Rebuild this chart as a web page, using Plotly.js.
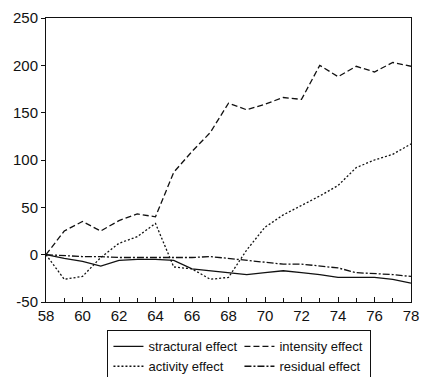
<!DOCTYPE html>
<html>
<head>
<meta charset="utf-8">
<script src="https://cdn.plot.ly/plotly-3.0.1.min.js"></script>
<style>html,body{margin:0;padding:0;background:#fff;}#chart{width:421px;height:377px;}</style>
</head>
<body>
<div id="chart"></div>
<script>
const years = [58,59,60,61,62,63,64,65,66,67,68,69,70,71,72,73,74,75,76,77,78];
const structural = [0,-4,-7,-12,-6,-5,-5,-6,-15,-17,-19,-21,-19,-17,-19,-21,-24,-24,-24,-26,-30];
const intensity = [0,25,35,25,36,43,40,87,109,129,160,153,159,166,164,200,188,199,193,203,199];
const activity = [0,-26,-23,-3,12,19,33,-13,-15,-26,-24,5,29,42,52,62,73,92,100,106,117];
const residual = [0,-1,-2,-2,-3,-3,-3,-3,-3,-2,-4,-6,-8,-10,-10,-12,-14,-19,-20,-21,-23];
const names = ["stractural effect","intensity effect","activity effect","residual effect"];
const xTicks = [58,60,62,64,66,68,70,72,74,76,78];
const yTicks = [-50,0,50,100,150,200,250];

const mk = (y, name, dash) => ({x: years, y: y, name: name, type: 'scatter', mode: 'lines',
  line: {color: '#111', width: 1.3, dash: dash}});
const data = [
  mk(structural, names[0], 'solid'),
  mk(intensity, names[1], '6px,3px'),
  mk(activity, names[2], '2px,2px'),
  mk(residual, names[3], '7px,2px,2px,2px')
];
const font = {family: 'Liberation Sans, Arial, sans-serif', size: 15, color: '#111'};
const layout = {
  width: 421, height: 377,
  margin: {l: 46, r: 10, t: 18, b: 75, autoexpand: false},
  paper_bgcolor: '#fff', plot_bgcolor: '#fff',
  font: font,
  showlegend: true,
  legend: {orientation: 'h', x: 0.53, xanchor: 'center', y: -0.1, yanchor: 'top',
    bordercolor: '#111', borderwidth: 1, bgcolor: '#fff',
    font: {family: 'Liberation Sans, Arial, sans-serif', size: 13, color: '#111'},
    entrywidth: 86, entrywidthmode: 'pixels', itemwidth: 30, tracegroupgap: 0},
  xaxis: {range: [58, 78], tickvals: xTicks, ticktext: xTicks.map(String),
    showgrid: false, zeroline: false, showline: true, linecolor: '#111', linewidth: 1,
    mirror: true, ticks: 'inside', ticklen: 5, tickcolor: '#111',
    minor: {dtick: 1, tick0: 58, ticks: 'inside', ticklen: 4, tickcolor: '#111'},
    tickfont: font, automargin: false},
  yaxis: {range: [-50, 250], tickvals: yTicks, ticktext: yTicks.map(String),
    showgrid: false, zeroline: false, showline: true, linecolor: '#111', linewidth: 1,
    mirror: true, ticks: 'outside', ticklen: 4, tickcolor: '#111', tickfont: font, automargin: false}
};
Plotly.newPlot('chart', data, layout, {staticPlot: true, displayModeBar: false});
</script>
</body>
</html>
